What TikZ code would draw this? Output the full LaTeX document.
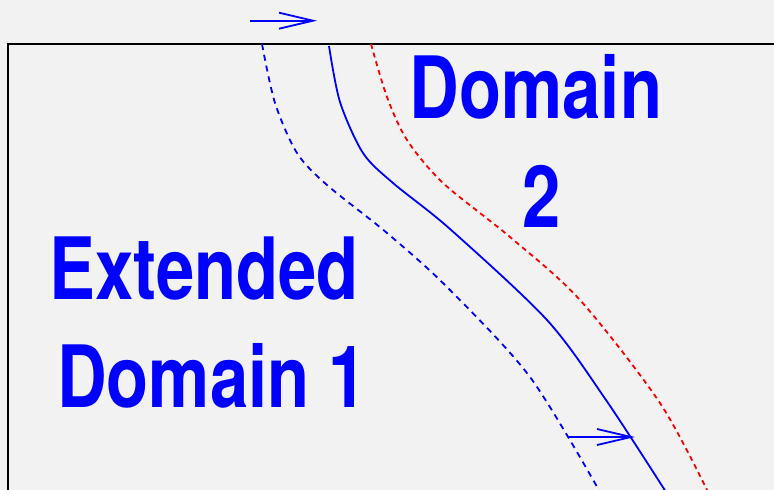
\documentclass[tikz,border=0pt]{standalone}
\usepackage{fontspec}
\newfontfamily\lblfont[FakeStretch=0.8]{TeX Gyre Heros}
\usetikzlibrary{arrows.meta}
\definecolor{bg}{HTML}{F2F2F2}
\begin{document}
\begin{tikzpicture}[x=1pt,y=-1pt,
  lbl/.style={text=blue,font=\lblfont\bfseries\fontsize{86}{108}\selectfont,inner sep=0pt,anchor=base},
  curve/.style={line width=1.8pt},
  bluedash/.style={curve,blue,dash pattern=on 6pt off 5pt},
  reddash/.style={curve,red,dash pattern=on 5pt off 4pt},
  flow/.style={line width=1.8pt,blue,-{Straight Barb[length=34pt,width=16pt,line width=1.8pt]}}]
\useasboundingbox (0,0) rectangle (774,490);
\clip (0,0) rectangle (774,490);
\fill[bg] (0,0) rectangle (774,490);
\draw[line width=1.8pt] (8,495) -- (8,44) -- (780,44);
% dashed blue
\draw[bluedash] plot[smooth] coordinates {(262,44) (275,103) (297,153) (327,185) (387,233) (447,287) (530,377) (600,492)};
% solid blue
\draw[curve,blue] plot[smooth] coordinates {(329,46) (340,102) (363,153) (393,183) (450,229) (547,320) (606,400) (666,492)};
% dashed red
\draw[reddash] plot[smooth] coordinates {(371,44) (387,97) (407,140) (443,183) (510,237) (580,300) (660,403) (708,492)};
% arrows
\coordinate (a1s) at (250,20.7);
\coordinate (a1e) at (317,20.7);
\coordinate (a2s) at (569,437);
\coordinate (a2e) at (635,437);
\draw[flow] (a1s) -- (a1e);
\draw[flow] (a2s) -- (a2e);
% labels
\node[lbl] (ext) at (204,299) {Extended};
\node[lbl] (dom1) at (212,407) {Domain 1};
\node[lbl] (dom2) at (536,118) {Domain};
\node[lbl] (two) at (542,227) {2};
\end{tikzpicture}
\end{document}
